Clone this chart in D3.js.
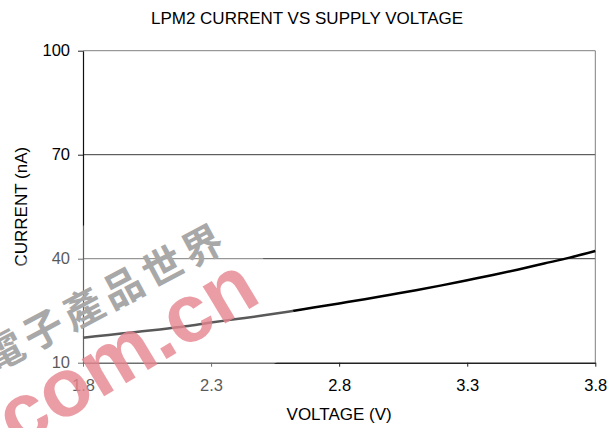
<!DOCTYPE html>
<html>
<head>
<meta charset="utf-8">
<script src="https://cdn.jsdelivr.net/npm/d3@7"></script>
<style>
  body { margin: 0; background: #fff; }
  svg { display: block; font-family: "Liberation Sans", Arial, sans-serif; }
</style>
</head>
<body>
<svg id="chart" width="611" height="428"></svg>
<script>
// data
const voltage = [1.8, 1.9, 2.0, 2.1, 2.2, 2.3, 2.4, 2.5, 2.6, 2.7, 2.8, 2.9, 3.0, 3.1, 3.2, 3.3, 3.4, 3.5, 3.6, 3.7, 3.8];
const current = [17.2, 18.0, 18.8, 19.6, 20.5, 21.6, 22.6, 23.6, 24.7, 25.9, 27.1, 28.3, 29.6, 30.9, 32.3, 33.8, 35.3, 36.9, 38.6, 40.3, 42.2];
const xTicks = [1.8, 2.3, 2.8, 3.3, 3.8];
const yTicks = [10, 40, 70, 100];
const chartTitle = "LPM2 CURRENT VS SUPPLY VOLTAGE";
const xTitle = "VOLTAGE (V)";
const yTitle = "CURRENT (nA)";

const svg = d3.select("#chart");
const width = +svg.attr("width");
const height = +svg.attr("height");
const margin = {top: 50.7, right: 15.7, bottom: 65.3, left: 83};

const x = d3.scaleLinear().domain([1.8, 3.8]).range([margin.left, width - margin.right]);
const y = d3.scaleLinear().domain([10, 100]).range([height - margin.bottom, margin.top]);

// gridlines (70, 40) and plot border
svg.append("g")
    .selectAll("line")
    .data(yTicks.filter(d => d != 10 && d != 100))
    .join("line")
    .attr("x1", x.range()[0]).attr("x2", x.range()[1])
    .attr("y1", d => y(d)).attr("y2", d => y(d))
    .attr("stroke", "#3a3a3a").attr("stroke-width", 1);

svg.append("path") // top + right border
    .attr("d", `M${x.range()[0]},${y(100)}H${x.range()[1]}V${y(10)}`)
    .attr("fill", "none")
    .attr("stroke", "#808080")
    .attr("stroke-width", 1);

// axes
const xAxis = svg.append("g")
    .attr("transform", `translate(0,${y(10)})`)
    .call(d3.axisBottom(x).tickValues(xTicks).tickFormat(d3.format(".1f")).tickSize(4).tickPadding(13).tickSizeOuter(0));
xAxis.select(".domain").attr("stroke", "#222").attr("stroke-width", 1.5);

const yAxis = svg.append("g")
    .attr("transform", `translate(${x(1.8)},0)`)
    .call(d3.axisLeft(y).tickValues(yTicks).tickSize(5).tickPadding(8).tickSizeOuter(0));
yAxis.select(".domain").attr("stroke", "#111").attr("stroke-width", 1.2);

svg.selectAll(".tick line").attr("stroke", "#222");
svg.selectAll(".tick text")
    .attr("font-size", 16.5)
    .attr("font-family", "Liberation Sans, Arial, sans-serif")
    .attr("fill", "#000");

// curve
const line = d3.line()
    .x((d, i) => x(voltage[i]))
    .y(d => y(d))
    .curve(d3.curveMonotoneX);

svg.append("path")
    .datum(current)
    .attr("d", line)
    .attr("fill", "none")
    .attr("stroke", "#000")
    .attr("stroke-width", 2.5);

// titles
svg.append("text")
    .attr("x", 307).attr("y", 24)
    .attr("text-anchor", "middle")
    .attr("font-size", 17)
    .text(chartTitle);

svg.append("text")
    .attr("x", (x.range()[0] + x.range()[1]) / 2).attr("y", 420)
    .attr("text-anchor", "middle")
    .attr("font-size", 17)
    .text(xTitle);

svg.append("text")
    .attr("transform", `translate(27,${(y(10) + y(100)) / 2}) rotate(-90)`)
    .attr("text-anchor", "middle")
    .attr("font-size", 17)
    .text(yTitle);

// watermark overlay (eepw), partly off the left/bottom edge as in the reference
const wm = svg.append("g").attr("pointer-events", "none");
wm.append("rect")
    .attr("transform", "translate(130,320) rotate(-30)")
    .attr("x", -300).attr("y", -105)
    .attr("width", 446).attr("height", 215)
    .attr("fill", "#fff").attr("fill-opacity", 0.35);

wm.append("text")
    .attr("transform", "translate(104,295) rotate(-28)")
    .attr("text-anchor", "middle")
    .attr("dominant-baseline", "central")
    .attr("font-family", "Noto Sans CJK TC, Noto Sans CJK SC, sans-serif")
    .attr("font-weight", "bold")
    .attr("font-size", 40)
    .attr("letter-spacing", 5)
    .attr("fill", "#a8a8a8")
    .text("電子產品世界");

wm.append("text")
    .attr("transform", "translate(96,382) rotate(-31)")
    .attr("text-anchor", "middle")
    .attr("font-family", "Liberation Sans, Arial, sans-serif")
    .attr("font-weight", "bold")
    .attr("font-size", 82)
    .attr("dy", "0.2em")
    .attr("fill", "#e6848f")
    .attr("fill-opacity", 0.8)
    .text("w.com.cn");
</script>
</body>
</html>
